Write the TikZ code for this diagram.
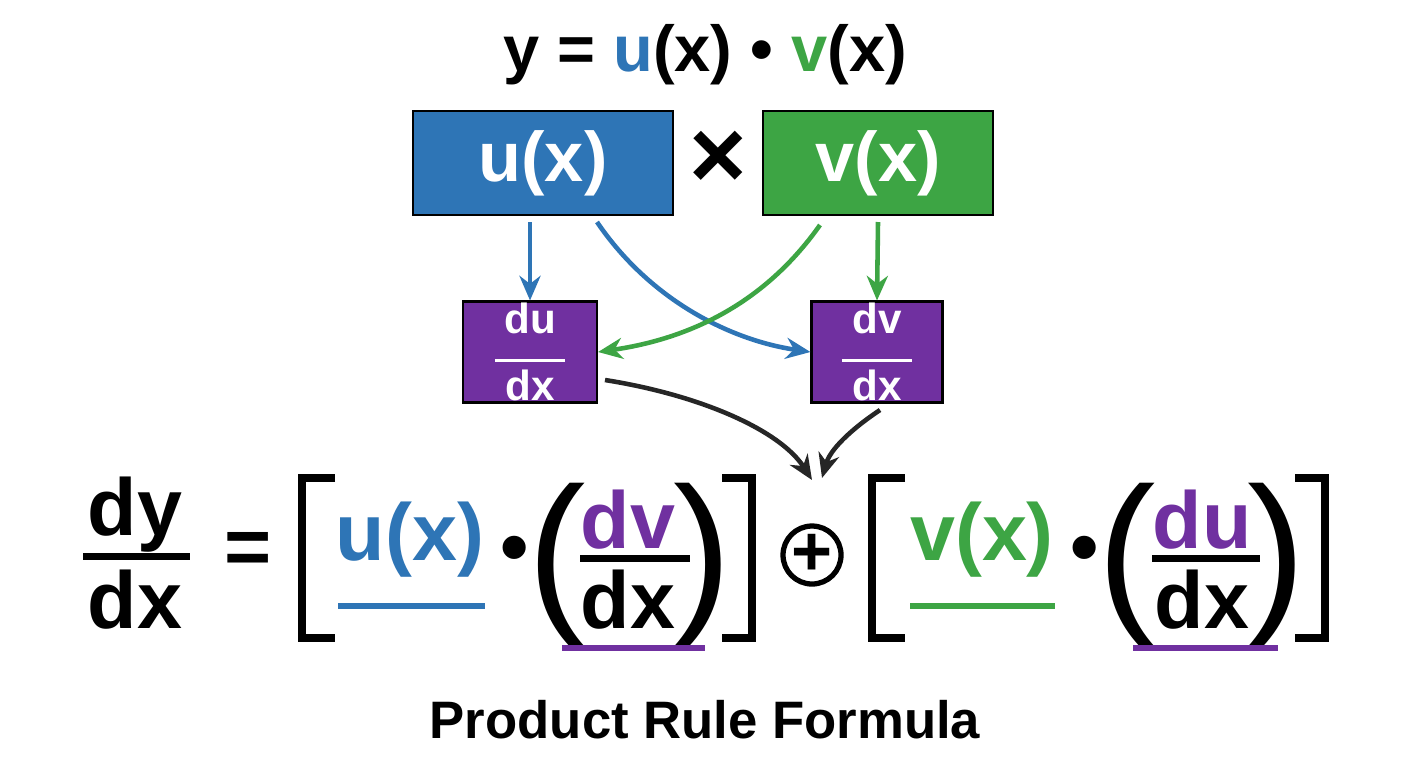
\documentclass[tikz,border=0pt]{standalone}
\usepackage{fontspec}
\setmainfont{Liberation Sans}
\usetikzlibrary{arrows.meta}
\definecolor{ublue}{HTML}{2E75B6}
\definecolor{vgreen}{HTML}{3DA544}
\definecolor{dpurple}{HTML}{7030A0}
\begin{document}
\begin{tikzpicture}[x=0.02cm,y=-0.02cm,
  box/.style={draw=black,line width=1.2pt,minimum width=#1,text=white,font=\bfseries\fontsize{40}{44}\selectfont},
  dbox/.style={draw=black,line width=1.2pt,fill=dpurple,minimum width=134*0.02cm,minimum height=101*0.02cm,text=white,inner sep=0pt,font=\bfseries\fontsize{24}{26}\selectfont,align=center},
  arr/.style={line width=2.6pt,-{Stealth[length=14pt,width=12pt]}},
  big/.style={font=\bfseries\fontsize{46}{50}\selectfont,inner sep=0pt},
  paren/.style={font=\fontsize{100}{100}\selectfont,inner sep=0pt},
  brk/.style={line width=4.5pt,line cap=butt,line join=miter},
  ul/.style={line width=3pt}]
\useasboundingbox (0,0) rectangle (1408,768);
\fill[white] (0,0) rectangle (1408,768);
\node[font=\bfseries\fontsize{37}{40}\selectfont] (title) at (705,55) {y = \textcolor{ublue}{u}(x) • \textcolor{vgreen}{v}(x)};
\node[box=260*0.02cm,minimum height=104*0.02cm,fill=ublue] (u) at (543,163) {u(x)};
\node[box=230*0.02cm,minimum height=104*0.02cm,fill=vgreen] (v) at (878,163) {v(x)};
\node[font=\bfseries\fontsize{56}{58}\selectfont] (times) at (718,160) {×};
\node[dbox] (du) at (530,352) {du\\[-10pt]\rule{40pt}{1.5pt}\\[-4pt]dx};
\node[dbox,minimum width=131*0.02cm] (dv) at (877,352) {dv\\[-10pt]\rule{40pt}{1.5pt}\\[-4pt]dx};
\coordinate (ua) at (530,222); \coordinate (ub) at (597,222);
\coordinate (va) at (878,222); \coordinate (vb) at (820,225);
\coordinate (plus) at (812,480);
\coordinate (ds) at (605,380); \coordinate (vs) at (880,410);
\draw[arr,ublue] (ua) -- (du.north);
\draw[arr,vgreen] (va) -- (dv.north);
\draw[arr,ublue] (ub) .. controls (650,300) and (730,340) .. (dv.west);
\draw[arr,vgreen] (vb) .. controls (760,310) and (680,340) .. (du.east);
\draw[arr,black!85] (ds) .. controls (700,395) and (780,430) .. (plus);
\draw[arr,black!85] (vs) .. controls (850,430) and (830,450) .. (822,478);
% bottom formula
\node[big] (dy) at (135,515) {dy};
\node[big] (dx) at (135,600) {dx};
\draw[line width=4pt] (83,556) -- (190,556);
\node[big] (eq) at (248,553) {=};
\draw[brk] (335,478) -- (302,478) -- (302,638) -- (335,638);
\node[big,text=ublue] (ux) at (410,540) {u(x)};
\draw[ul,ublue] (338,606) -- (485,606);
\node[big] (dot1) at (515,555) {•};
\node[paren] (lp1) at (557,565) {(};
\node[big,text=dpurple] (dvn) at (628,520) {dv};
\draw[line width=4pt] (580,558) -- (690,558);
\node[big] (dxa) at (628,600) {dx};
\node[paren] (rp1) at (703,565) {)};
\draw[ul,dpurple] (562,648) -- (705,648);
\draw[brk] (722,478) -- (752,478) -- (752,638) -- (722,638);
\node[draw,circle,line width=3pt,minimum size=58*0.02cm,inner sep=0pt,font=\bfseries\fontsize{40}{40}\selectfont] (op) at (812,555) {+};
\draw[brk] (905,478) -- (872,478) -- (872,638) -- (905,638);
\node[big,text=vgreen] (vx) at (982,540) {v(x)};
\draw[ul,vgreen] (910,606) -- (1055,606);
\node[big] (dot2) at (1085,555) {•};
\node[paren] (lp2) at (1127,565) {(};
\node[big,text=dpurple] (dun) at (1202,520) {du};
\draw[line width=4pt] (1152,558) -- (1260,558);
\node[big] (dxb) at (1202,600) {dx};
\node[paren] (rp2) at (1277,565) {)};
\draw[ul,dpurple] (1133,648) -- (1278,648);
\draw[brk] (1295,478) -- (1325,478) -- (1325,638) -- (1295,638);
\node[font=\bfseries\fontsize{30}{34}\selectfont] (cap) at (705,720) {Product Rule Formula};
\end{tikzpicture}
\end{document}
